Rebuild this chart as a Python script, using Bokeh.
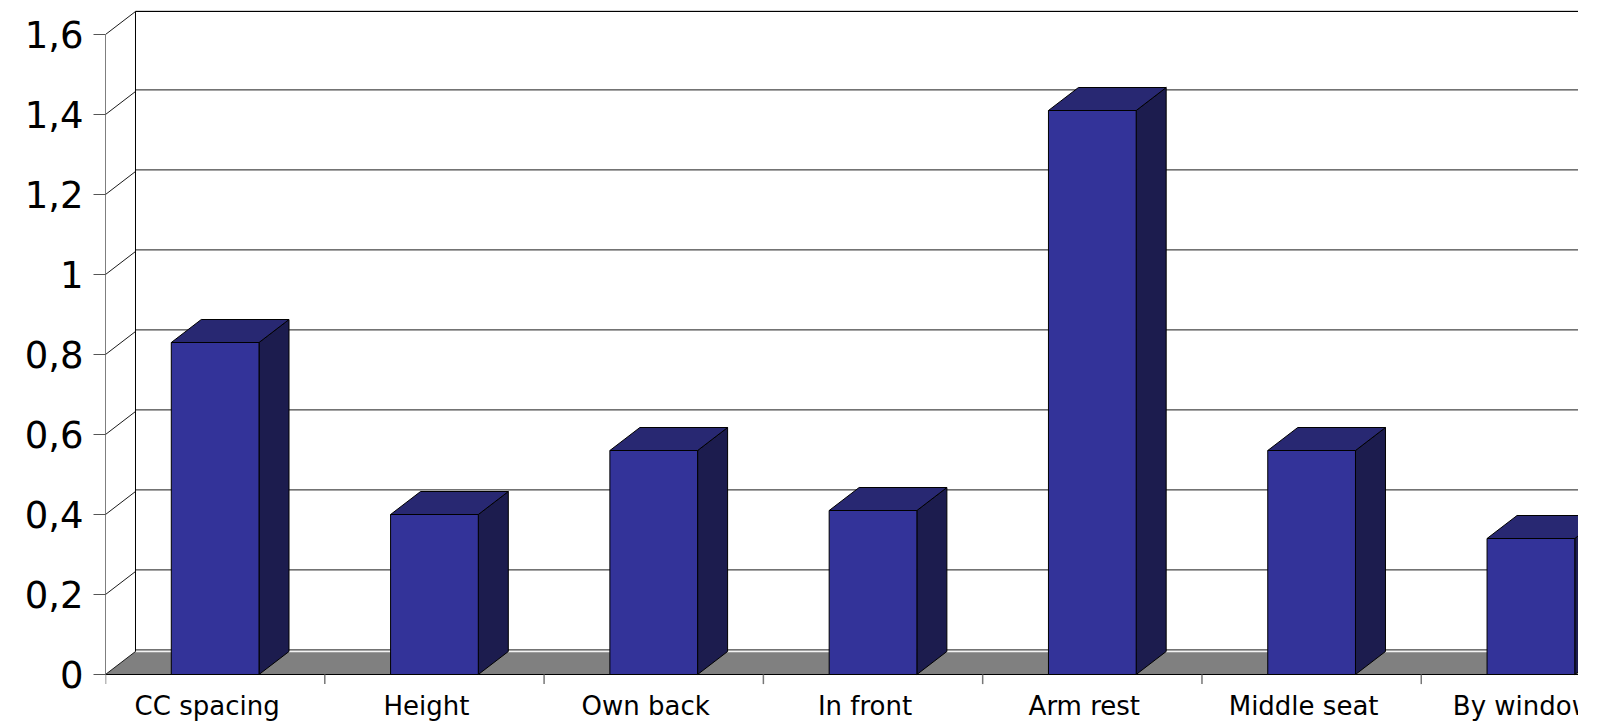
from bokeh.plotting import figure
from bokeh.models import Range1d, FixedTicker, CustomJSTickFormatter
from bokeh.embed import file_html
from bokeh.resources import INLINE

# ---- data ----
categories = ["CC spacing", "Height", "Own back", "In front", "Arm rest", "Middle seat", "By window"]
values = [0.83, 0.40, 0.56, 0.41, 1.41, 0.56, 0.34]
y_ticks = [0, 0.2, 0.4, 0.6, 0.8, 1.0, 1.2, 1.4, 1.6]

# ---- 3D geometry (in data units) ----
X_END = 6.717          # visible part of the category axis
DX = 0.1368            # depth offset along x (categories)
DY = 0.0575            # depth offset along y (value units)
BAR_L, BAR_R = 0.3, 0.7
Y_END = 1.66
Y_START = -0.1175
TICK_LEN = 0.024
LABEL_Y = -0.0775

p = figure(width=1578, height=721, output_backend="svg", toolbar_location=None,
           x_range=Range1d(0, X_END), y_range=Range1d(Y_START, Y_END),
           min_border_left=105, min_border_right=0, min_border_top=10, min_border_bottom=0,
           background_fill_color="white", border_fill_color="white")
p.outline_line_color = None
p.xgrid.visible = False
p.ygrid.visible = False
p.xaxis.visible = False

# floor
p.patch([0, X_END + DX, X_END + DX, DX], [0, 0, DY, DY],
        fill_color="#808080", line_color=None)
p.line([DX, X_END + DX], [DY, DY], line_color="#f4f4f4", line_width=1.5)
p.line([0, X_END], [0, 0], line_color="black", line_width=1)

# gridlines: back wall + side wall diagonals
for v in y_ticks:
    p.line([DX, X_END + DX], [v + DY + 0.004, v + DY + 0.004], line_color="#1a1a1a", line_width=1)
    p.line([0, DX], [v, v + DY], line_color="#1a1a1a", line_width=1)
# wall edges
p.line([0, 0], [0, y_ticks[-1]], line_color="black", line_width=1)
p.line([DX, DX], [DY, y_ticks[-1] + DY], line_color="black", line_width=1)
p.line([DX, X_END + DX], [y_ticks[-1] + DY, y_ticks[-1] + DY], line_color="black", line_width=1)

# category boundary ticks
bounds = list(range(len(categories) + 1))
p.segment(x0=bounds, y0=[0] * len(bounds), x1=bounds, y1=[-TICK_LEN] * len(bounds),
          line_color="#777777", line_width=1.5)

# bars
fx, fy, tx, ty, sx, sy = [], [], [], [], [], []
for i, v in enumerate(values):
    l, r = i + BAR_L, i + BAR_R
    fx.append([l, r, r, l]); fy.append([0, 0, v, v])
    tx.append([l, r, r + DX, l + DX]); ty.append([v, v, v + DY, v + DY])
    sx.append([r, r + DX, r + DX, r]); sy.append([0, DY, v + DY, v])
p.patches(sx, sy, fill_color="#1c1c4e", line_color="black", line_width=1)
p.patches(tx, ty, fill_color="#282872", line_color="black", line_width=1)
p.patches(fx, fy, fill_color="#333399", line_color="black", line_width=1)

# category labels
p.text(x=[i + 0.5 for i in range(len(categories))], y=[LABEL_Y] * len(categories),
       text=categories, text_align="center", text_baseline="middle",
       x_offset=-8, text_font_size="26px", text_color="black",
       text_font={"value": "DejaVu Sans"})

# y axis
yax = p.yaxis[0]
yax.ticker = FixedTicker(ticks=y_ticks)
yax.formatter = CustomJSTickFormatter(code="return (Math.round(tick*10)/10).toString().replace('.', ',');")
yax.axis_line_color = None
yax.major_tick_out = 12
yax.major_tick_in = 0
yax.major_tick_line_color = "#555555"
yax.minor_tick_line_color = None
yax.major_label_text_font = "DejaVu Sans"
yax.major_label_text_font_size = "37px"
yax.major_label_text_color = "black"
yax.major_label_standoff = 10

open("out.html", "w").write(file_html(p, INLINE))
